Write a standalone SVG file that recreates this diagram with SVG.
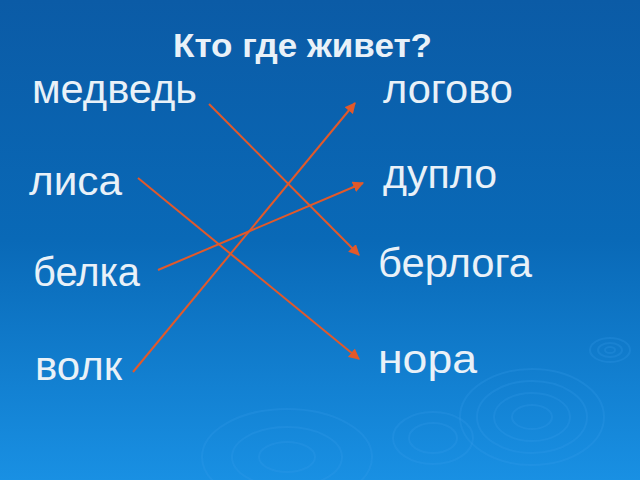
<svg xmlns="http://www.w3.org/2000/svg" width="640" height="480" viewBox="0 0 640 480">
<defs>
<linearGradient id="bg" x1="0" y1="0" x2="0" y2="1">
<stop offset="0" stop-color="#0b5ba6"/>
<stop offset="0.5" stop-color="#0969b7"/>
<stop offset="1" stop-color="#1990e3"/>
</linearGradient>
<marker id="ah" viewBox="0 0 10 10" refX="9" refY="5" markerWidth="5.5" markerHeight="5.5" orient="auto" markerUnits="strokeWidth">
<path d="M0,0 L10,5 L0,10 z" fill="#e2592a"/>
</marker>
</defs>
<style>
.w{font-family:"Liberation Sans",Arial,sans-serif;font-size:40px;fill:#e9f1f8}
.t{font-family:"Liberation Sans",Arial,sans-serif;font-size:33px;font-weight:bold;fill:#e9f1f8}
.c{stroke:#e2592a;stroke-width:2;fill:none;marker-end:url(#ah)}
.r{fill:none;stroke:#3aa0ee;stroke-opacity:0.22;stroke-width:2}
</style>
<rect width="640" height="480" fill="url(#bg)"/>
<g id="ripples">
<ellipse class="r" cx="532" cy="417" rx="72" ry="48"/>
<ellipse class="r" cx="532" cy="417" rx="55" ry="36"/>
<ellipse class="r" cx="532" cy="417" rx="38" ry="24"/>
<ellipse class="r" cx="532" cy="417" rx="20" ry="12"/>
<ellipse class="r" cx="433" cy="438" rx="40" ry="26"/>
<ellipse class="r" cx="433" cy="438" rx="24" ry="15"/>
<ellipse class="r" cx="610" cy="350" rx="20" ry="12"/>
<ellipse class="r" cx="610" cy="350" rx="12" ry="7"/>
<ellipse class="r" cx="610" cy="350" rx="5" ry="3"/>
<ellipse class="r" cx="287" cy="457" rx="85" ry="48"/>
<ellipse class="r" cx="287" cy="457" rx="55" ry="30"/>
<ellipse class="r" cx="287" cy="457" rx="28" ry="15"/>
</g>
<g id="title"><text class="t" x="173" y="57" textLength="259" lengthAdjust="spacingAndGlyphs">Кто где живет?</text></g>
<g id="n-medved"><text class="w" x="32" y="103" textLength="165" lengthAdjust="spacingAndGlyphs">медведь</text></g>
<g id="n-lisa"><text class="w" x="29" y="195" textLength="93" lengthAdjust="spacingAndGlyphs">лиса</text></g>
<g id="n-belka"><text class="w" x="33" y="286" textLength="107" lengthAdjust="spacingAndGlyphs">белка</text></g>
<g id="n-volk"><text class="w" x="35" y="380" textLength="87" lengthAdjust="spacingAndGlyphs">волк</text></g>
<g id="n-logovo"><text class="w" x="383" y="103" textLength="130" lengthAdjust="spacingAndGlyphs">логово</text></g>
<g id="n-duplo"><text class="w" x="383" y="188" textLength="114" lengthAdjust="spacingAndGlyphs">дупло</text></g>
<g id="n-berloga"><text class="w" x="378" y="277" textLength="154" lengthAdjust="spacingAndGlyphs">берлога</text></g>
<g id="n-nora"><text class="w" x="378" y="373" textLength="99" lengthAdjust="spacingAndGlyphs">нора</text></g>
<g id="connectors">
<line class="c" x1="209" y1="104" x2="359" y2="255"/>
<line class="c" x1="138" y1="178" x2="359" y2="359"/>
<line class="c" x1="158" y1="270" x2="363" y2="183"/>
<line class="c" x1="133" y1="372" x2="355" y2="103"/>
</g>
</svg>
